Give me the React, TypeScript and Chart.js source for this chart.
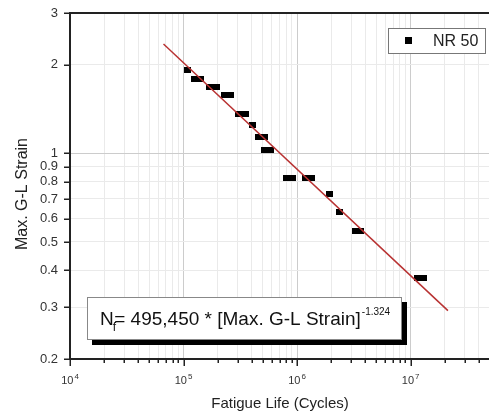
import React, { useEffect, useRef } from 'react';
import { Chart, registerables } from 'chart.js';

Chart.register(...registerables);

// ---- data ----
const seriesLabel = 'NR 50';
const fatigueLife = [
  1.088e5, 1.239e5, 1.397e5, 1.706e5, 1.963e5, 2.305e5, 2.599e5, 3.05e5, 3.51e5, 4.075e5,
  4.55e5, 5.13e5, 5.13e5, 5.79e5, 8.14e5, 9.18e5, 1.19e6, 1.343e6, 1.925e6, 2.35e6,
  3.24e6, 3.65e6, 1.143e7, 1.29e7,
];
const maxStrain = [
  1.917, 1.794, 1.794, 1.685, 1.685, 1.576, 1.576, 1.359, 1.359, 1.252,
  1.139, 1.139, 1.029, 1.029, 0.823, 0.823, 0.823, 0.823, 0.726, 0.6335,
  0.544, 0.544, 0.378, 0.378,
];
const fitLife = [6.66e4, 2.13e7];
const fitStrain = [2.353, 0.292];

const xTickValues = [
  1e4, 2e4, 3e4, 4e4, 5e4, 6e4, 7e4, 8e4, 9e4,
  1e5, 2e5, 3e5, 4e5, 5e5, 6e5, 7e5, 8e5, 9e5,
  1e6, 2e6, 3e6, 4e6, 5e6, 6e6, 7e6, 8e6, 9e6,
  1e7, 2e7, 3e7, 4e7,
];
const xDecadeLabels = ['4', '5', '6', '7'];
const yTickValues = [0.2, 0.3, 0.4, 0.5, 0.6, 0.7, 0.8, 0.9, 1, 2, 3];
const xTitle = 'Fatigue Life (Cycles)';
const yTitle = 'Max. G-L Strain';
const eqMain = 'N';
const eqSub = 'f';
const eqBody = '= 495,450 * [Max. G-L Strain]';
const eqSup = '-1.324';

const FONT = '"Liberation Sans", Arial, sans-serif';

const isDecade = (v: number) => Math.abs(Math.log10(v) - Math.round(Math.log10(v))) < 1e-9;

function makeMarker(w: number, h: number) {
  const c = document.createElement('canvas');
  c.width = w;
  c.height = h;
  const g = c.getContext('2d')!;
  g.fillStyle = '#000';
  g.fillRect(0, 0, w, h);
  return c;
}

const decorPlugin = {
  id: 'decor',
  afterDraw(chart: any) {
    const { ctx, chartArea } = chart;
    const { left, right, top, bottom } = chartArea;
    const xs = chart.scales.x;
    const ys = chart.scales.y;
    ctx.save();
    // top frame
    ctx.strokeStyle = '#222';
    ctx.lineWidth = 2;
    ctx.beginPath();
    ctx.moveTo(left - 1, top);
    ctx.lineTo(right, top);
    ctx.stroke();
    // x ticks
    ctx.lineWidth = 1.5;
    xTickValues.forEach((v) => {
      const px = Math.round(xs.getPixelForValue(v)) + 0.25;
      const len = isDecade(v) ? 7 : 4;
      ctx.beginPath();
      ctx.moveTo(px, bottom);
      ctx.lineTo(px, bottom + len);
      ctx.stroke();
    });
    // y ticks
    yTickValues.forEach((v) => {
      const py = Math.round(ys.getPixelForValue(v)) + 0.25;
      ctx.beginPath();
      ctx.moveTo(left - 6, py);
      ctx.lineTo(left, py);
      ctx.stroke();
    });
    // x decade labels
    ctx.fillStyle = '#333';
    ctx.textBaseline = 'alphabetic';
    xTickValues.filter(isDecade).forEach((v, i) => {
      const px = xs.getPixelForValue(v);
      ctx.font = `11px ${FONT}`;
      const wb = ctx.measureText('10').width;
      ctx.font = `8px ${FONT}`;
      const we = ctx.measureText(xDecadeLabels[i]).width;
      const x0 = px - (wb + we + 1) / 2;
      ctx.font = `11px ${FONT}`;
      ctx.textAlign = 'left';
      ctx.fillText('10', x0, bottom + 25);
      ctx.font = `8px ${FONT}`;
      ctx.fillText(xDecadeLabels[i], x0 + wb + 1, bottom + 20);
    });
    // y axis title
    ctx.save();
    ctx.translate(23, 194);
    ctx.rotate(-Math.PI / 2);
    ctx.textAlign = 'center';
    ctx.textBaseline = 'middle';
    ctx.fillStyle = '#222';
    ctx.font = `16px ${FONT}`;
    ctx.fillText(yTitle, 0, 0);
    ctx.restore();
    // legend
    ctx.textAlign = 'left';
    ctx.textBaseline = 'alphabetic';
    ctx.fillStyle = '#fff';
    ctx.fillRect(388, 28, 98, 25);
    ctx.strokeStyle = '#777';
    ctx.lineWidth = 1;
    ctx.strokeRect(388.5, 28.5, 97, 25);
    ctx.fillStyle = '#000';
    ctx.fillRect(405, 37, 7, 7);
    ctx.fillStyle = '#222';
    ctx.font = `16px ${FONT}`;
    ctx.fillText(seriesLabel, 433, 46);
    // equation box with shadow
    ctx.fillStyle = '#000';
    ctx.fillRect(92, 302, 315, 43);
    ctx.fillStyle = '#fff';
    ctx.fillRect(87, 297, 315, 43);
    ctx.strokeStyle = '#888';
    ctx.strokeRect(87.5, 297.5, 314, 42);
    ctx.fillStyle = '#111';
    let x = 100;
    const base = 325;
    ctx.font = `19px ${FONT}`;
    ctx.fillText(eqMain, x, base);
    const wN = ctx.measureText(eqMain).width;
    ctx.font = `12px ${FONT}`;
    ctx.fillText(eqSub, x + wN - 1, base + 6);
    x += wN + 0.5;
    ctx.font = `19px ${FONT}`;
    ctx.fillText(eqBody, x, base);
    x += ctx.measureText(eqBody).width + 1;
    ctx.font = `10px ${FONT}`;
    ctx.fillText(eqSup, x, base - 10);
    ctx.restore();
  },
};

export default function App() {
  const ref = useRef<HTMLCanvasElement | null>(null);
  useEffect(() => {
    if (!ref.current) return;
    const marker = makeMarker(7, 6);
    const chart = new Chart(ref.current, {
      type: 'scatter',
      data: {
        datasets: [
          {
            label: seriesLabel,
            data: fatigueLife.map((v, i) => ({ x: v, y: maxStrain[i] })),
            pointStyle: marker as any,
            pointRadius: 4,
            backgroundColor: '#000',
            borderColor: '#000',
            order: 1,
          },
          {
            label: 'fit',
            data: fitLife.map((v, i) => ({ x: v, y: fitStrain[i] })),
            showLine: true,
            borderColor: '#b83232',
            borderWidth: 1.5,
            pointRadius: 0,
            order: 0,
          } as any,
        ],
      },
      options: {
        responsive: false,
        animation: false,
        devicePixelRatio: 1,
        layout: { padding: { top: 13, left: 0, right: 0, bottom: 0 } },
        plugins: { legend: { display: false }, tooltip: { enabled: false } },
        scales: {
          x: {
            type: 'logarithmic',
            min: 1e4,
            max: 5e7,
            afterBuildTicks: (s: any) => {
              s.ticks = xTickValues.map((v) => ({ value: v }));
            },
            afterFit: (s: any) => {
              s.height = 59;
              s.paddingLeft = 0;
              s.paddingRight = 0;
              s.paddingTop = 0;
              s.paddingBottom = 0;
            },
            ticks: { display: false },
            grid: {
              drawTicks: false,
              color: (c: any) => (isDecade(c.tick?.value ?? 2) ? '#cccccc' : '#eaeaea'),
              lineWidth: 1,
            },
            border: { color: '#222', width: 2 },
            title: {
              display: true,
              text: xTitle,
              color: '#222',
              font: { size: 15, family: FONT },
              padding: { top: 0, bottom: 5 },
            },
          },
          y: {
            type: 'logarithmic',
            min: 0.2,
            max: 3,
            afterBuildTicks: (s: any) => {
              s.ticks = yTickValues.map((v) => ({ value: v }));
            },
            afterFit: (s: any) => {
              s.width = 70;
              s.paddingTop = 0;
              s.paddingBottom = 0;
              s.paddingLeft = 0;
              s.paddingRight = 0;
            },
            ticks: {
              autoSkip: false,
              padding: 12,
              color: '#333',
              font: { size: 13, family: FONT },
              callback: (v: any) => String(Number(Number(v).toPrecision(3))),
            },
            grid: {
              drawTicks: false,
              color: (c: any) => (c.tick?.value === 1 ? '#cccccc' : '#eaeaea'),
              lineWidth: 1,
            },
            border: { color: '#222', width: 2 },
            title: { display: false },
          },
        },
      },
      plugins: [decorPlugin],
    });
    return () => chart.destroy();
  }, []);
  return (
    <canvas
      ref={ref}
      width={495}
      height={418}
      style={{ position: 'fixed', left: 0, top: 0, width: 495, height: 418 }}
    />
  );
}
